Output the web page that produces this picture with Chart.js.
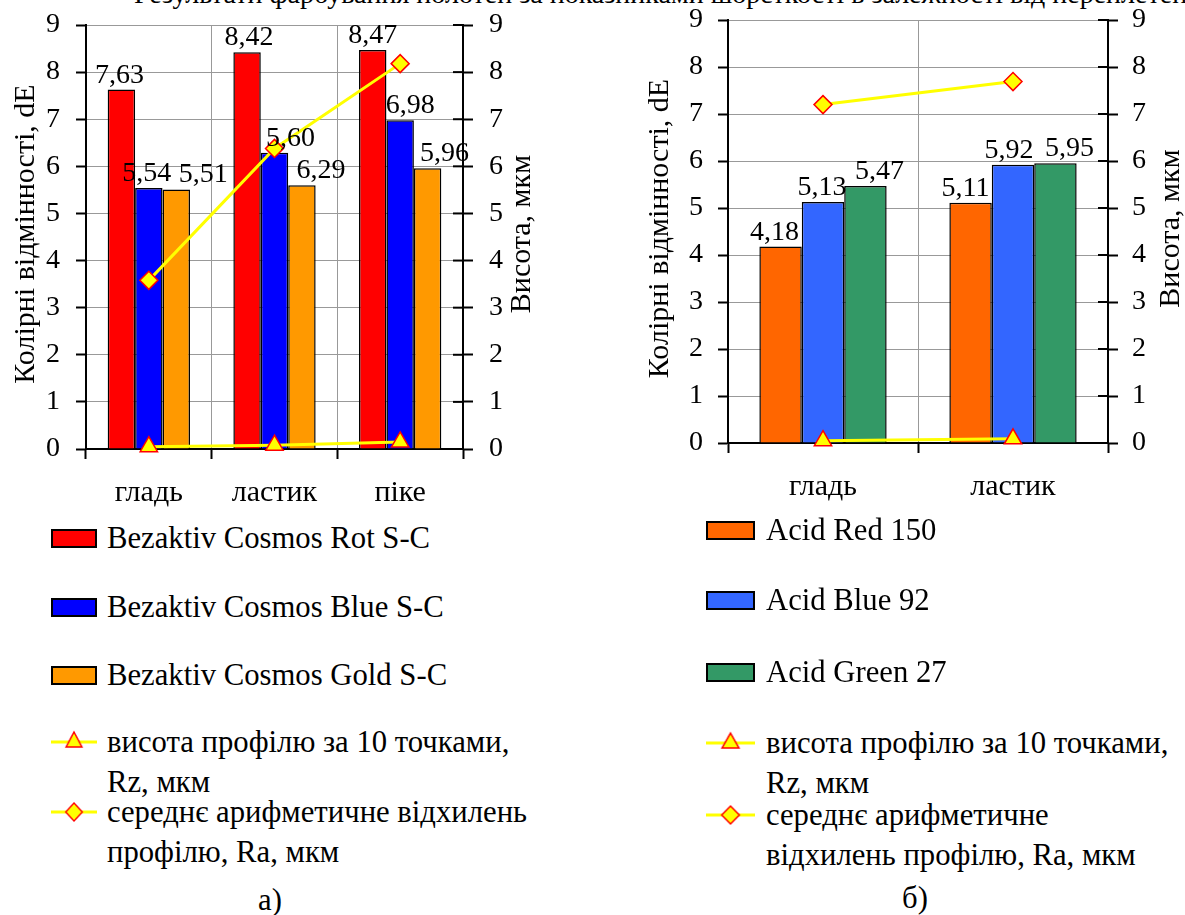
<!DOCTYPE html>
<html>
<head>
<meta charset="utf-8">
<script src="https://cdn.jsdelivr.net/npm/chart.js@4.4.1/dist/chart.umd.min.js"></script>
<style>
  body { margin: 0; background: #fff; font-family: "Liberation Serif", "DejaVu Serif", serif; }
  #page { position: relative; width: 1185px; height: 915px; overflow: hidden; background: #fff; }
  .box { position: absolute; }
  .row { position: absolute; font-size: 30.7px; line-height: 40px; color: #000; white-space: nowrap; }
  .sw { position: absolute; box-sizing: border-box; border: 2px solid #000; }
  #title { position: absolute; right: -30px; top: -22px; font-size: 28px; white-space: nowrap; }
</style>
</head>
<body>
<div id="page">
  <div id="title">Результати фарбування полотен за показниками шорсткості в залежності від переплетення</div>
  <div class="box" style="left:0;top:0;width:560px;height:515px"><canvas id="chartA"></canvas></div>
  <div class="box" style="left:600px;top:0;width:585px;height:515px"><canvas id="chartB"></canvas></div>
  <div id="legendA"></div>
  <div id="legendB"></div>
</div>
<script>
var fontFamily = '"Liberation Serif", "DejaVu Serif", serif';

// а) Bezaktiv Cosmos
var catsA = ['гладь', 'ластик', 'піке'];
var namesA = ['Bezaktiv Cosmos Rot S-C', 'Bezaktiv Cosmos Blue S-C', 'Bezaktiv Cosmos Gold S-C'];
var rotA = [7.63, 8.42, 8.47];
var blueA = [5.54, 6.29, 6.98];
var goldA = [5.51, 5.60, 5.96];
var rotTextA = ['7,63', '8,42', '8,47'];
var blueTextA = ['5,54', '5,60', '6,98'];
var goldTextA = ['5,51', '6,29', '5,96'];
var rzA = [0.05, 0.08, 0.15];
var raA = [3.58, 6.38, 8.18];

// б) Acid
var catsB = ['гладь', 'ластик'];
var namesB = ['Acid Red 150', 'Acid Blue 92', 'Acid Green 27'];
var redB = [4.18, 5.11];
var blueB = [5.13, 5.92];
var greenB = [5.47, 5.95];
var redTextB = ['4,18', '5,11'];
var blueTextB = ['5,13', '5,92'];
var greenTextB = ['5,47', '5,95'];
var rzB = [0.05, 0.09];
var raB = [7.20, 7.69];

var leftTitle = 'Колірні відмінності, dE';
var rightTitle = 'Висота, мкм';
var rzNameA = ['висота профілю за 10 точками,', 'Rz, мкм'];
var raNameA = ['середнє арифметичне відхилень', 'профілю, Ra, мкм'];
var rzNameB = ['висота профілю за 10 точками,', 'Rz, мкм'];
var raNameB = ['середнє арифметичне', 'відхилень профілю, Ra, мкм'];

var lineYellow = '#ffff00';
var markerRed = '#ff0000';

// підписи значень, підписи осей і внутрішні засічки правої осі
var extras = {
  id: 'extras',
  afterDraw: function (chart, args, o) {
    var ctx = chart.ctx, a = chart.chartArea, y1 = chart.scales.y1;
    ctx.save();
    ctx.strokeStyle = '#000';
    ctx.lineWidth = 2;
    y1.ticks.forEach(function (t) {
      var y = y1.getPixelForValue(t.value);
      ctx.beginPath();
      ctx.moveTo(a.right - 10, y);
      ctx.lineTo(a.right, y);
      ctx.stroke();
    });

    ctx.fillStyle = '#000';
    ctx.font = o.labelSize + 'px ' + fontFamily;
    ctx.textAlign = 'center';
    ctx.textBaseline = 'alphabetic';
    chart.data.datasets.forEach(function (ds, i) {
      if (!ds.valueText) return;
      chart.getDatasetMeta(i).data.forEach(function (bar, j) {
        ctx.fillText(ds.valueText[j], bar.x + o.shift[i][j], bar.y - 7);
      });
    });

    ctx.font = o.titleSize + 'px ' + fontFamily;
    ctx.textBaseline = 'middle';
    var mid = (a.top + a.bottom) / 2 - 3;
    [[o.leftX, leftTitle], [o.rightX, rightTitle]].forEach(function (t) {
      ctx.save();
      ctx.translate(t[0], mid);
      ctx.rotate(-Math.PI / 2);
      ctx.fillText(t[1], 0, 0);
      ctx.restore();
    });
    ctx.restore();
  }
};

function makeChart(id, cats, bars, rz, ra, g) {
  var tickFont = { family: fontFamily, size: 28 };
  var datasets = bars.map(function (b) {
    return {
      type: 'bar',
      data: b.values,
      valueText: b.text,
      backgroundColor: b.color,
      borderColor: '#000',
      borderWidth: 1.5,
      categoryPercentage: g.catPct,
      barPercentage: 1,
      yAxisID: 'y',
      order: 2
    };
  });
  datasets.push({
    type: 'line', data: rz, yAxisID: 'y1', order: 1, clip: false,
    borderColor: lineYellow, borderWidth: 3,
    pointStyle: 'triangle', pointRadius: 10,
    pointBackgroundColor: lineYellow, pointBorderColor: markerRed, pointBorderWidth: 1.5
  });
  datasets.push({
    type: 'line', data: ra, yAxisID: 'y1', order: 1, clip: false,
    borderColor: lineYellow, borderWidth: 3,
    pointStyle: 'rectRot', pointRadius: 9,
    pointBackgroundColor: lineYellow, pointBorderColor: markerRed, pointBorderWidth: 1.5
  });

  function fitY(w) {
    return function (s) { s.width = w; s.paddingTop = 0; s.paddingBottom = 0; };
  }

  return new Chart(document.getElementById(id), {
    data: { labels: cats, datasets: datasets },
    plugins: [extras],
    options: {
      responsive: true,
      maintainAspectRatio: false,
      animation: false,
      layout: { padding: { top: g.top, left: 0, right: 0, bottom: 0 } },
      plugins: {
        legend: { display: false },
        tooltip: { enabled: false },
        extras: { labelSize: 28, titleSize: 30, leftX: g.leftX, rightX: g.rightX, shift: g.shift }
      },
      scales: {
        x: {
          grid: { color: '#999', lineWidth: 1, tickColor: '#000', tickLength: 10, tickWidth: 2, offset: true },
          border: { color: '#000', width: 2 },
          ticks: { color: '#000', font: { family: fontFamily, size: 30 }, padding: g.xPad, maxRotation: 0 },
          afterFit: function (s) { s.height = g.xH; s.paddingLeft = 0; s.paddingRight = 0; }
        },
        y: {
          min: 0, max: 9,
          ticks: { stepSize: 1, color: '#000', font: tickFont, padding: g.yPad },
          grid: { color: '#999', lineWidth: 1, tickColor: '#000', tickLength: 10, tickWidth: 2 },
          border: { color: '#000', width: 2 },
          afterFit: fitY(g.yW)
        },
        y1: {
          position: 'right',
          min: 0, max: 9,
          ticks: { stepSize: 1, color: '#000', font: tickFont, padding: g.y1Pad },
          grid: { drawOnChartArea: false, tickColor: '#000', tickLength: 10, tickWidth: 2 },
          border: { color: '#000', width: 2 },
          afterFit: fitY(g.y1W)
        }
      }
    }
  });
}

makeChart('chartA', catsA, [
  { values: rotA, text: rotTextA, color: '#ff0000' },
  { values: blueA, text: blueTextA, color: '#0000ff' },
  { values: goldA, text: goldTextA, color: '#ff9900' }
], rzA, raA, {
  top: 25, yW: 86, y1W: 97, xH: 66, catPct: 0.655,
  yPad: 16, y1Pad: 16, xPad: 16, leftX: 26, rightX: 522,
  shift: [[-2, 2, 0], [-2, 16, 10], [27, 19, 17]]
});

makeChart('chartB', catsB, [
  { values: redB, text: redTextB, color: '#ff6600' },
  { values: blueB, text: blueTextB, color: '#3366ff' },
  { values: greenB, text: greenTextB, color: '#339966' }
], rzB, raB, {
  top: 20, yW: 128, y1W: 77, xH: 72, catPct: 0.67,
  yPad: 15, y1Pad: 14, xPad: 16, leftX: 60, rightX: 571,
  shift: [[-6, -5], [-1, -4], [14, 14]]
});

// легенди
function drawMarker(style, radius) {
  var c = document.createElement('canvas');
  c.width = 50; c.height = 26;
  var ctx = c.getContext('2d');
  ctx.strokeStyle = lineYellow;
  ctx.lineWidth = 3;
  ctx.beginPath(); ctx.moveTo(0, 13); ctx.lineTo(50, 13); ctx.stroke();
  ctx.fillStyle = lineYellow;
  ctx.strokeStyle = markerRed;
  ctx.lineWidth = 1.5;
  Chart.helpers.drawPoint(ctx, { pointStyle: style, radius: radius, borderWidth: 1.5 }, 25, 13);
  return c;
}

function makeLegend(id, items, L) {
  var box = document.getElementById(id);
  items.forEach(function (it, k) {
    var cy = L.rows[k];
    if (it.color) {
      var sw = document.createElement('div');
      sw.className = 'sw';
      sw.style.cssText = 'left:' + L.swX + 'px;top:' + (cy - 9) + 'px;width:' + L.swW + 'px;height:19px;background:' + it.color;
      box.appendChild(sw);
    } else {
      var m = drawMarker(it.marker, it.marker === 'triangle' ? 10 : 9);
      m.style.cssText = 'position:absolute;left:' + L.swX + 'px;top:' + (cy - 13) + 'px;width:' + L.swW + 'px;height:26px';
      box.appendChild(m);
    }
    var row = document.createElement('div');
    row.className = 'row';
    row.style.left = L.textX + 'px';
    row.style.top = (cy - 20) + 'px';
    row.innerHTML = it.text.join('<br>');
    box.appendChild(row);
  });
  var cap = document.createElement('div');
  cap.className = 'row';
  cap.style.cssText = 'left:' + (L.capX - 20) + 'px;width:40px;text-align:center;top:' + (L.capY - 20) + 'px';
  cap.textContent = L.cap;
  box.appendChild(cap);
}

makeLegend('legendA', [
  { color: '#ff0000', text: [namesA[0]] },
  { color: '#0000ff', text: [namesA[1]] },
  { color: '#ff9900', text: [namesA[2]] },
  { marker: 'triangle', text: rzNameA },
  { marker: 'rectRot', text: raNameA }
], { rows: [538, 607, 675, 742, 812], swX: 51, swW: 46, textX: 107, cap: 'а)', capX: 270, capY: 900 });

makeLegend('legendB', [
  { color: '#ff6600', text: [namesB[0]] },
  { color: '#3366ff', text: [namesB[1]] },
  { color: '#339966', text: [namesB[2]] },
  { marker: 'triangle', text: rzNameB },
  { marker: 'rectRot', text: raNameB }
], { rows: [530, 600, 672, 743, 815], swX: 706, swW: 49, textX: 766, cap: 'б)', capX: 915, capY: 898 });
</script>
</body>
</html>
